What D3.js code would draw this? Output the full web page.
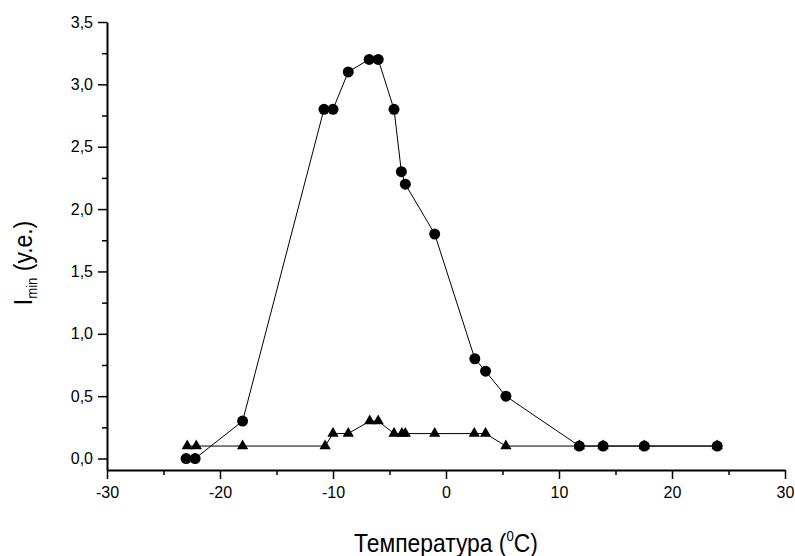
<!DOCTYPE html>
<html>
<head>
<meta charset="utf-8">
<script src="https://cdn.jsdelivr.net/npm/d3@7"></script>
<style>
  body { margin: 0; background: #fff; }
  svg { display: block; font-family: "Liberation Sans", Arial, sans-serif; }
</style>
</head>
<body>
<svg id="chart" width="795" height="556"></svg>
<script>
// circles series
const tempCircles = [-23, -22.2, -18, -10.8, -10.0, -8.65, -6.8, -6.0, -4.6, -3.95, -3.6, -1.0, 2.55, 3.5, 5.3, 11.8, 13.9, 17.55, 24.0];
const iCircles    = [0, 0, 0.3, 2.8, 2.8, 3.1, 3.2, 3.2, 2.8, 2.3, 2.2, 1.8, 0.8, 0.7, 0.5, 0.1, 0.1, 0.1, 0.1];

// triangles series
const tempTriangles = [-22.9, -22.1, -18, -10.7, -10.0, -8.65, -6.75, -6.0, -4.6, -3.9, -3.6, -1.0, 2.5, 3.5, 5.3, 11.8, 13.9, 17.55, 24.0];
const iTriangles    = [0.1, 0.1, 0.1, 0.1, 0.2, 0.2, 0.3, 0.3, 0.2, 0.2, 0.2, 0.2, 0.2, 0.2, 0.1, 0.1, 0.1, 0.1, 0.1];

const xMajor = [-30, -20, -10, 0, 10, 20, 30];
const xMinor = [-25, -15, -5, 5, 15, 25];
const yMajor = [0, 0.5, 1.0, 1.5, 2.0, 2.5, 3.0, 3.5];
const yMinor = [0.25, 0.75, 1.25, 1.75, 2.25, 2.75, 3.25];

const svg = d3.select('#chart');

const x = d3.scaleLinear().domain([-30, 30]).range([107, 785]);
const y = d3.scaleLinear().domain([-0.092, 3.5]).range([470, 22]);

const commaFmt = d => d.toFixed(1).replace('.', ',');
const intFmt = d => String(d);

// x axis
const gx = svg.append('g').attr('transform', 'translate(0,470)');
gx.call(d3.axisBottom(x).tickValues(xMajor).tickSize(9).tickSizeOuter(0).tickPadding(8).tickFormat(intFmt));
gx.append('g').call(d3.axisBottom(x).tickValues(xMinor).tickSize(5).tickFormat(''))
  .select('.domain').remove();

// y axis
const gy = svg.append('g').attr('transform', 'translate(107,0)');
gy.call(d3.axisLeft(y).tickValues(yMajor).tickSize(9).tickSizeOuter(0).tickPadding(5).tickFormat(commaFmt));
gy.append('g').call(d3.axisLeft(y).tickValues(yMinor).tickSize(5).tickFormat(''))
  .select('.domain').remove();

svg.selectAll('.domain').attr('stroke', '#000').attr('stroke-width', 2);
svg.selectAll('.tick line').attr('stroke', '#000').attr('stroke-width', 1.5);
svg.selectAll('.tick text').attr('fill', '#000').style('font-size', '16px');

// triangles series
const triData = tempTriangles.map((t, i) => ({ t: t, v: iTriangles[i] }));
const circData = tempCircles.map((t, i) => ({ t: t, v: iCircles[i] }));

const line = d3.line().x(d => x(d.t)).y(d => y(d.v));

svg.append('path')
  .datum(triData)
  .attr('fill', 'none')
  .attr('stroke', '#000')
  .attr('stroke-width', 1)
  .attr('d', line);

svg.selectAll('.tri')
  .data(triData)
  .enter().append('path')
  .attr('class', 'tri')
  .attr('transform', d => 'translate(' + x(d.t) + ',' + y(d.v) + ')')
  .attr('d', d3.symbol().type(d3.symbolTriangle).size(55))
  .attr('fill', '#000');

svg.append('path')
  .datum(circData)
  .attr('fill', 'none')
  .attr('stroke', '#000')
  .attr('stroke-width', 1)
  .attr('d', line);

svg.selectAll('.dot')
  .data(circData)
  .enter().append('circle')
  .attr('class', 'dot')
  .attr('cx', d => x(d.t))
  .attr('cy', d => y(d.v))
  .attr('r', 5.5)
  .attr('fill', '#000');

// axis titles
const xTitle = svg.append('text')
  .attr('transform', 'translate(446,552) scale(0.88,1)')
  .attr('text-anchor', 'middle')
  .style('font-size', '26px')
  .attr('fill', '#000');
xTitle.append('tspan').text('Температура (');
xTitle.append('tspan').attr('dy', -11).style('font-size', '15px').text('0');
xTitle.append('tspan').attr('dy', 11).text('C)');

const yTitle = svg.append('text')
  .attr('transform', 'translate(32,263) rotate(-90) scale(0.88,1)')
  .attr('text-anchor', 'middle')
  .style('font-size', '26px')
  .attr('fill', '#000');
yTitle.append('tspan').text('I');
yTitle.append('tspan').attr('dy', 5).style('font-size', '15px').text('min');
yTitle.append('tspan').attr('dy', -5).text(' (y.e.)');
</script>
</body>
</html>
